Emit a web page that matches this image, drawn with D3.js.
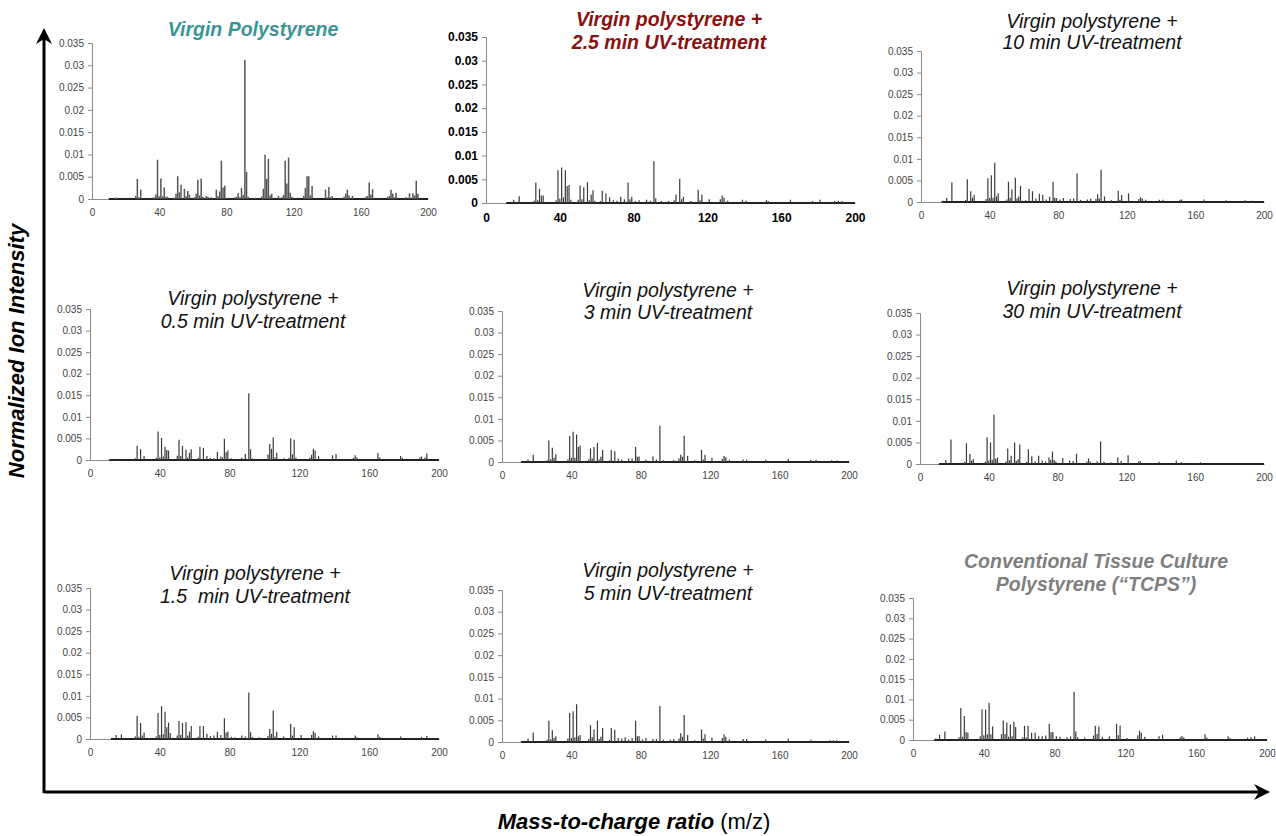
<!DOCTYPE html>
<html>
<head>
<meta charset="utf-8">
<script src="https://cdn.jsdelivr.net/npm/d3@7/dist/d3.min.js"></script>
<style>
  body { margin: 0; background: #fff; }
  svg { display: block; }
</style>
</head>
<body>
<div id="container"></div>
<script>
// spectra: [m/z, normalized ion intensity]
const virginPS = [[14,0.0003],[15,0.0003],[26,0.0007],[27,0.0045],[28,0.0004],[29,0.0021],[37,0.0004],[38,0.001],[39,0.0088],
  [40,0.0006],[41,0.0046],[42,0.0006],[43,0.0026],[44,0.0005],[45,0.0005],[49,0.0003],
  [50,0.0012],[51,0.0051],[52,0.0015],[53,0.0032],[55,0.0023],[56,0.0006],[57,0.0018],[58,0.001],[61,0.0004],[62,0.0012],
  [63,0.0043],[64,0.0008],[65,0.0046],[66,0.0005],[68,0.0007],[69,0.0005],[71,0.0004],[74,0.0021],[75,0.0006],[76,0.0017],
  [77,0.0086],[78,0.0026],[79,0.003],[81,0.0003],[85,0.0004],[86,0.0005],[87,0.0013],[88,0.0004],[89,0.0025],[90,0.0009],
  [91,0.0312],[92,0.0061],[93,0.0005],[97,0.0003],[101,0.0006],[102,0.0023],[103,0.0099],[104,0.0045],[105,0.009],
  [106,0.0008],[107,0.0012],[111,0.0007],[113,0.0004],[114,0.0009],[115,0.0086],
  [116,0.0035],[117,0.0093],[118,0.0014],[119,0.0005],[126,0.0007],[127,0.0025],[128,0.0051],[129,0.0051],[130,0.0008],
  [131,0.0029],[139,0.0021],[140,0.0004],[141,0.0027],[142,0.0004],[143,0.0007],[150,0.0005],[151,0.0012],[152,0.0021],
  [153,0.0008],[155,0.0007],[163,0.0005],[164,0.0007],[165,0.0037],[166,0.001],[167,0.0022],[176,0.0005],[177,0.0007],
  [178,0.0021],[179,0.0012],[180,0.0004],[181,0.0014],[187,0.0004],[189,0.0013],[191,0.0013],[192,0.0008],[193,0.0041],
  [194,0.0012]];
const uv25 = [[15,0.0007],[18,0.0014],[26,0.0005],[27,0.0043],[28,0.0006],[29,0.003],[30,0.0016],[31,0.0016],[38,0.0006],
  [39,0.0069],[40,0.0009],[41,0.0075],[42,0.0012],[43,0.0069],[44,0.0036],[45,0.0038],[46,0.0007],[50,0.0007],[51,0.0037],
  [52,0.0008],[53,0.0033],[55,0.0044],[56,0.0006],[57,0.0018],[58,0.0027],[59,0.0005],[62,0.0004],[63,0.0026],[65,0.002],
  [67,0.0012],[69,0.0006],[71,0.0005],[73,0.0013],[75,0.0008],[77,0.0043],[78,0.0008],[79,0.0013],[81,0.0004],[83,0.0006],
  [87,0.0007],[89,0.0005],[91,0.0088],[92,0.001],[95,0.0004],[99,0.0004],[102,0.0006],[103,0.0018],[105,0.0051],
  [106,0.0008],[107,0.0013],[111,0.0004],[115,0.0028],[116,0.0006],[117,0.0018],[121,0.0008],[127,0.0008],[128,0.0016],
  [129,0.0011],[131,0.0005],[139,0.0007],[141,0.0005],[152,0.0006],[153,0.0004],[165,0.0007],[177,0.0004],[181,0.0007],
  [189,0.0004],[191,0.0005],[193,0.0004]];
const uv10 = [[13,0.0003],[15,0.0009],[18,0.0046],[26,0.0005],[27,0.0053],[29,0.0025],[30,0.001],[31,0.0017],[38,0.0007],
  [39,0.0055],[40,0.0009],[41,0.0062],[42,0.001],[43,0.0091],[44,0.0013],[45,0.002],[50,0.0006],[51,0.0047],[52,0.001],
  [53,0.0029],[55,0.0056],[56,0.0008],[57,0.0013],[58,0.0037],[61,0.0004],[63,0.003],[65,0.0025],[67,0.0008],[69,0.0019],
  [71,0.0017],[73,0.0006],[75,0.0012],[77,0.0047],[78,0.001],[79,0.0009],[81,0.0006],[83,0.0009],[87,0.0007],[89,0.0008],
  [91,0.0066],[93,0.0005],[97,0.0006],[99,0.0008],[102,0.0007],[103,0.0018],[104,0.0008],[105,0.0075],[107,0.0013],
  [111,0.0004],[115,0.0026],[116,0.0005],[117,0.0016],[121,0.002],[127,0.0007],[128,0.0011],[129,0.0008],[131,0.0005],
  [139,0.0005],[141,0.0005],[151,0.0005],[152,0.0006],[165,0.0006],[178,0.0004],[189,0.0004],[193,0.0003]];
const uv05 = [[15,0.0003],[26,0.0004],[27,0.0033],[29,0.0025],[31,0.0009],[38,0.0005],[39,0.0066],[40,0.0006],[41,0.0051],
  [42,0.0008],[43,0.0031],[44,0.0023],[45,0.0022],[50,0.0010],[51,0.0047],[52,0.0009],[53,0.0033],[55,0.0024],[56,0.0006],
  [57,0.0017],[58,0.0025],[62,0.0005],[63,0.0031],[65,0.0028],[67,0.0009],[69,0.0005],[71,0.0004],[73,0.0019],[75,0.0008],
  [76,0.0006],[77,0.0049],[78,0.0018],[79,0.0022],[81,0.0004],[87,0.0006],[89,0.0014],[91,0.0155],[92,0.0025],[93,0.0004],
  [102,0.0013],[103,0.0037],[104,0.0026],[105,0.0052],[106,0.0006],[107,0.0017],[111,0.0004],[114,0.0005],[115,0.005],
  [116,0.0013],[117,0.0047],[118,0.0006],[126,0.0006],[127,0.0012],[128,0.0026],[129,0.0022],[131,0.0009],[139,0.0011],
  [141,0.0014],[151,0.0005],[152,0.0011],[153,0.0006],[165,0.0016],[166,0.0006],[178,0.0009],[179,0.0005],[189,0.0006],
  [190,0.0008],[192,0.0006],[193,0.0015]];
const uv3 = [[15,0.0006],[18,0.0017],[26,0.0004],[27,0.005],[28,0.0006],[29,0.0033],[30,0.001],[31,0.0018],[38,0.0006],
  [39,0.006],[40,0.0009],[41,0.007],[42,0.001],[43,0.0064],[44,0.0035],[45,0.0038],[50,0.0006],[51,0.0031],[52,0.0008],
  [53,0.0035],[55,0.0044],[56,0.0006],[57,0.0012],[58,0.0028],[62,0.0004],[63,0.0028],[65,0.0025],[67,0.0008],[69,0.0006],
  [73,0.0008],[75,0.0008],[77,0.0035],[78,0.0012],[79,0.0013],[83,0.0005],[87,0.0013],[89,0.0006],[91,0.0084],[93,0.0004],
  [99,0.0004],[102,0.0008],[103,0.0017],[104,0.0012],[105,0.0061],[107,0.0014],[111,0.0004],[115,0.0028],[116,0.0006],
  [117,0.0017],[121,0.0009],[127,0.0007],[128,0.0014],[129,0.0011],[131,0.0005],[139,0.0006],[141,0.0005],[152,0.0005],
  [165,0.0007],[178,0.0005],[181,0.0005],[190,0.0004],[193,0.0004]];
const uv30 = [[15,0.0009],[18,0.0057],[26,0.0005],[27,0.0048],[29,0.0023],[30,0.0008],[31,0.0011],[38,0.0006],[39,0.0062],
  [40,0.0008],[41,0.005],[42,0.001],[43,0.0115],[44,0.0012],[45,0.0015],[50,0.0006],[51,0.0036],[52,0.0009],[53,0.0019],
  [55,0.005],[56,0.0007],[57,0.0011],[58,0.0045],[62,0.0005],[63,0.0034],[65,0.0018],[67,0.0006],[69,0.0019],[71,0.0008],
  [73,0.0006],[75,0.0015],[76,0.0009],[77,0.0029],[78,0.0009],[79,0.0006],[83,0.0014],[87,0.0008],[89,0.0007],[91,0.0024],
  [97,0.0006],[98,0.0013],[99,0.0006],[103,0.0006],[105,0.0052],[107,0.0005],[111,0.0004],[115,0.0015],[117,0.0007],
  [121,0.002],[127,0.0005],[128,0.0007],[139,0.0005],[149,0.0008],[152,0.0004],[163,0.0004]];
const uv15 = [[15,0.0009],[18,0.0011],[26,0.0006],[27,0.0054],[28,0.0005],[29,0.0037],[30,0.0008],[31,0.0015],[38,0.0006],
  [39,0.006],[40,0.0009],[41,0.0076],[42,0.0011],[43,0.0063],[44,0.0027],[45,0.0038],[46,0.0014],[50,0.0008],[51,0.0042],
  [52,0.0009],[53,0.0037],[55,0.0039],[56,0.0008],[57,0.0017],[58,0.003],[62,0.0005],[63,0.003],[65,0.003],[67,0.0012],
  [69,0.0007],[71,0.0008],[73,0.0017],[75,0.0009],[77,0.0048],[78,0.0015],[79,0.0017],[81,0.0005],[83,0.0004],[87,0.0008],
  [89,0.0006],[91,0.0108],[92,0.0016],[93,0.0005],[97,0.0004],[102,0.0007],[103,0.0023],[104,0.0012],[105,0.0066],
  [106,0.0006],[107,0.0017],[111,0.0006],[115,0.0035],[116,0.0008],[117,0.0027],[121,0.0009],[127,0.0009],[128,0.0018],
  [129,0.0014],[131,0.0006],[139,0.0008],[141,0.0008],[152,0.0008],[153,0.0004],[165,0.0011],[166,0.0005],[178,0.0006],
  [190,0.0005],[193,0.0007]];
const uv5 = [[15,0.0008],[18,0.0022],[26,0.0005],[27,0.0049],[28,0.0006],[29,0.0027],[30,0.0009],[31,0.0013],[38,0.0008],
  [39,0.0067],[40,0.0009],[41,0.0071],[42,0.0011],[43,0.0087],[44,0.0013],[45,0.0016],[50,0.0007],[51,0.0039],[52,0.0011],
  [53,0.0029],[55,0.0049],[56,0.0007],[57,0.0012],[58,0.0032],[62,0.0005],[63,0.0032],[65,0.0028],[67,0.0009],[69,0.0008],
  [71,0.0011],[73,0.0006],[75,0.0009],[77,0.0049],[78,0.0013],[79,0.0014],[81,0.0006],[83,0.0009],[87,0.0007],[89,0.0007],
  [91,0.0083],[93,0.0005],[97,0.0005],[99,0.0007],[102,0.0008],[103,0.002],[104,0.0012],[105,0.0062],[107,0.0016],
  [111,0.0004],[115,0.0029],[116,0.0008],[117,0.0018],[121,0.001],[127,0.0009],[128,0.0018],[129,0.0012],[131,0.0006],
  [139,0.0007],[141,0.0007],[152,0.0006],[165,0.0008],[178,0.0005],[189,0.0004],[191,0.0004],[193,0.0004]];
const tcps = [[13,0.0004],[15,0.0013],[18,0.0021],[26,0.0007],[27,0.0079],[28,0.0008],[29,0.0059],[30,0.002],[31,0.0018],
  [38,0.0009],[39,0.0075],[40,0.0012],[41,0.0075],[42,0.0014],[43,0.0092],[44,0.0014],[45,0.0033],[50,0.0014],[51,0.0048],
  [52,0.0015],[53,0.0043],[54,0.0008],[55,0.0038],[56,0.0009],[57,0.0045],[58,0.0032],[62,0.0007],[63,0.0035],[64,0.0006],
  [65,0.0035],[67,0.0018],[69,0.0018],[71,0.0009],[73,0.0009],[75,0.0011],[77,0.004],[78,0.0019],[79,0.002],[81,0.0009],
  [83,0.0008],[87,0.0007],[89,0.0009],[91,0.0119],[92,0.0021],[93,0.0007],[97,0.0006],[102,0.0011],[103,0.0035],
  [104,0.0015],[105,0.0033],[107,0.0008],[111,0.0009],[115,0.004],[116,0.0012],[117,0.0036],[121,0.0005],[127,0.0012],
  [128,0.0023],[129,0.0018],[131,0.0008],[139,0.0009],[141,0.0013],[151,0.0007],[152,0.001],[153,0.0006],[165,0.0014],
  [166,0.0006],[178,0.0009],[179,0.0005],[189,0.0006],[191,0.0007],[193,0.0009]];

// where each spectrum's low-level baseline begins (m/z)
const baselineStart = [10, 11, 12, 11, 11, 11, 12, 11, 12];

const titles = [
  ["Virgin Polystyrene"],
  ["Virgin polystyrene +", "2.5 min UV-treatment"],
  ["Virgin polystyrene +", "10 min UV-treatment"],
  ["Virgin polystyrene +", "0.5 min UV-treatment"],
  ["Virgin polystyrene +", "3 min UV-treatment"],
  ["Virgin polystyrene +", "30 min UV-treatment"],
  ["Virgin polystyrene +", "1.5  min UV-treatment"],
  ["Virgin polystyrene +", "5 min UV-treatment"],
  ["Conventional Tissue Culture", "Polystyrene (\u201cTCPS\u201d)"]
];
const spectra = [virginPS, uv25, uv10, uv05, uv3, uv30, uv15, uv5, tcps];

const xTicks = [0, 40, 80, 120, 160, 200];
const yTicks = [0, 0.005, 0.01, 0.015, 0.02, 0.025, 0.03, 0.035];

// panel geometry (pixels)
const panels = [
  {x0: 92,  x1: 428,  yt: 43,  y0: 199, tx: 253,  ty: [36],       color: "#3a9496", bold: true,  tickBold: false},
  {x0: 486, x1: 855,  yt: 37,  y0: 203, tx: 669,  ty: [26, 49],   color: "#8b1010", bold: true,  tickBold: true},
  {x0: 921, x1: 1264, yt: 51,  y0: 202, tx: 1092, ty: [28, 49],   color: "#111",    bold: false, tickBold: false},
  {x0: 90,  x1: 439,  yt: 309, y0: 460, tx: 253,  ty: [305, 328], color: "#111",    bold: false, tickBold: false},
  {x0: 502, x1: 849,  yt: 311, y0: 462, tx: 668,  ty: [297, 319], color: "#111",    bold: false, tickBold: false},
  {x0: 920, x1: 1264, yt: 313, y0: 464, tx: 1092, ty: [295, 318], color: "#111",    bold: false, tickBold: false},
  {x0: 90,  x1: 439,  yt: 588, y0: 739, tx: 255,  ty: [580, 603], color: "#111",    bold: false, tickBold: false},
  {x0: 502, x1: 849,  yt: 590, y0: 742, tx: 668,  ty: [577, 600], color: "#111",    bold: false, tickBold: false},
  {x0: 913, x1: 1267, yt: 598, y0: 740, tx: 1096, ty: [568, 591], color: "#7f7f7f", bold: true,  tickBold: false}
];

const w = 1276, h = 836;
const svg = d3.select("#container").append("svg")
  .attr("width", w).attr("height", h)
  .style("font-family", "'Liberation Sans', Arial, sans-serif");

const fmt = d => d === 0 ? "0" : String(+d.toFixed(3));

panels.forEach((p, i) => {
  const x = d3.scaleLinear().domain([0, 200]).range([p.x0, p.x1]);
  const y = d3.scaleLinear().domain([0, 0.035]).range([p.y0, p.yt]);
  const g = svg.append("g");

  // y axis
  const ya = g.append("g").attr("transform", `translate(${p.x0},0)`)
    .call(d3.axisLeft(y).tickValues(yTicks).tickFormat(fmt).tickSize(4).tickPadding(4));
  // x axis
  const xa = g.append("g").attr("transform", `translate(0,${p.y0})`)
    .call(d3.axisBottom(x).tickValues(xTicks).tickSize(0).tickPadding(10));

  [ya, xa].forEach(a => {
    a.select(".domain").attr("stroke", "#8a8a8a");
    a.selectAll(".tick line").attr("stroke", "#8a8a8a");
    a.selectAll("text")
      .attr("fill", p.tickBold ? "#000" : "#444")
      .style("font-size", p.tickBold ? "12px" : "10px")
      .style("font-weight", p.tickBold ? "bold" : "normal");
  });

  // baseline of the spectrum
  g.append("line")
    .attr("x1", x(baselineStart[i])).attr("x2", x(200))
    .attr("y1", y(0)).attr("y2", y(0))
    .attr("stroke", "#222").attr("stroke-width", 2);

  // peaks
  g.selectAll(".peak").data(spectra[i]).join("line")
    .attr("class", "peak")
    .attr("x1", d => x(d[0])).attr("x2", d => x(d[0]))
    .attr("y1", y(0)).attr("y2", d => y(d[1]))
    .attr("stroke", i === 0 ? "#555" : "#3a3a3a").attr("stroke-width", i === 0 ? 1.5 : 1.2);

  // title
  g.selectAll(".title").data(titles[i]).join("text")
    .attr("class", "title")
    .attr("x", p.tx).attr("y", (d, k) => p.ty[k])
    .attr("text-anchor", "middle")
    .attr("fill", p.color)
    .style("font-size", "19.5px")
    .style("font-style", "italic")
    .style("white-space", "pre")
    .style("font-weight", p.bold ? "bold" : "normal")
    .text(d => d);
});

// big axis arrows
svg.append("path")
  .attr("d", "M44,793 L44,36 M44,792 L1262,792")
  .attr("stroke", "#000").attr("stroke-width", 3).attr("fill", "none");
svg.append("path")
  .attr("d", "M44,28 L52,44 L44,39 L36,44 Z")
  .attr("fill", "#000");
svg.append("path")
  .attr("d", "M1270,792 L1254,784 L1259,792 L1254,800 Z")
  .attr("fill", "#000");

const narrow = "'Liberation Sans Narrow', 'Arial Narrow', 'Liberation Sans', sans-serif";
svg.append("text")
  .attr("transform", "translate(24,351) rotate(-90)")
  .attr("text-anchor", "middle")
  .style("font-family", narrow)
  .style("font-size", "22px").style("font-weight", "bold").style("font-style", "italic")
  .text("Normalized Ion Intensity");

const xl = svg.append("text")
  .attr("x", 634).attr("y", 829)
  .attr("text-anchor", "middle")
  .style("font-family", narrow)
  .style("font-size", "22px");
xl.append("tspan").style("font-weight", "bold").style("font-style", "italic").text("Mass-to-charge ratio");
xl.append("tspan").text(" (m/z)");
</script>
</body>
</html>
